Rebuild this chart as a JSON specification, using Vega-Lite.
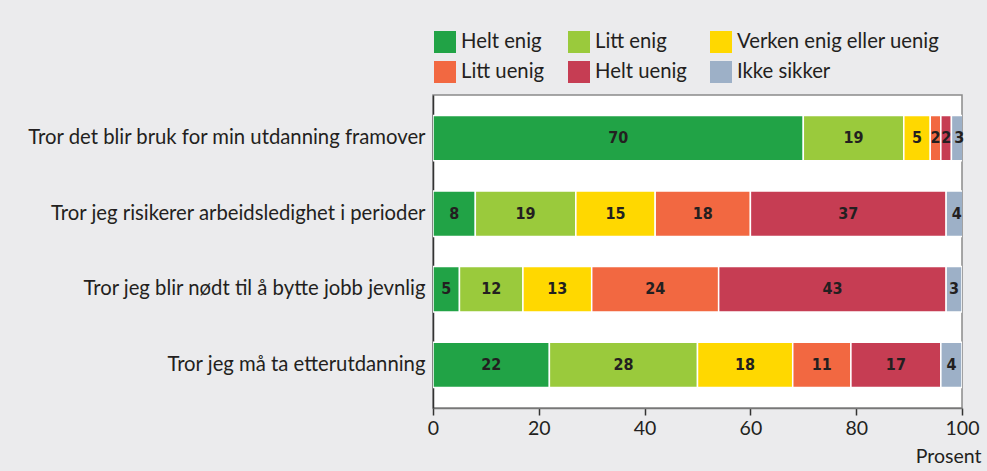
{
  "$schema": "https://vega.github.io/schema/vega-lite/v6.json",
  "width": 529,
  "height": 313,
  "autosize": {"type": "none"},
  "padding": {"left": 433, "top": 95, "right": 25, "bottom": 63},
  "background": "#ebebed",
  "config": {
    "view": {"fill": "white", "stroke": "#8a8a8a", "strokeWidth": 1.5},
    "font": "Lato"
  },
  "data": {
    "values": [
      {"q": "Tror det blir bruk for min utdanning framover", "svar": "Helt enig", "v": 70},
      {"q": "Tror det blir bruk for min utdanning framover", "svar": "Litt enig", "v": 19},
      {"q": "Tror det blir bruk for min utdanning framover", "svar": "Verken enig eller uenig", "v": 5},
      {"q": "Tror det blir bruk for min utdanning framover", "svar": "Litt uenig", "v": 2},
      {"q": "Tror det blir bruk for min utdanning framover", "svar": "Helt uenig", "v": 2},
      {"q": "Tror det blir bruk for min utdanning framover", "svar": "Ikke sikker", "v": 3},
      {"q": "Tror jeg risikerer arbeidsledighet i perioder", "svar": "Helt enig", "v": 8},
      {"q": "Tror jeg risikerer arbeidsledighet i perioder", "svar": "Litt enig", "v": 19},
      {"q": "Tror jeg risikerer arbeidsledighet i perioder", "svar": "Verken enig eller uenig", "v": 15},
      {"q": "Tror jeg risikerer arbeidsledighet i perioder", "svar": "Litt uenig", "v": 18},
      {"q": "Tror jeg risikerer arbeidsledighet i perioder", "svar": "Helt uenig", "v": 37},
      {"q": "Tror jeg risikerer arbeidsledighet i perioder", "svar": "Ikke sikker", "v": 4},
      {"q": "Tror jeg blir nødt til å bytte jobb jevnlig", "svar": "Helt enig", "v": 5},
      {"q": "Tror jeg blir nødt til å bytte jobb jevnlig", "svar": "Litt enig", "v": 12},
      {"q": "Tror jeg blir nødt til å bytte jobb jevnlig", "svar": "Verken enig eller uenig", "v": 13},
      {"q": "Tror jeg blir nødt til å bytte jobb jevnlig", "svar": "Litt uenig", "v": 24},
      {"q": "Tror jeg blir nødt til å bytte jobb jevnlig", "svar": "Helt uenig", "v": 43},
      {"q": "Tror jeg blir nødt til å bytte jobb jevnlig", "svar": "Ikke sikker", "v": 3},
      {"q": "Tror jeg må ta etterutdanning", "svar": "Helt enig", "v": 22},
      {"q": "Tror jeg må ta etterutdanning", "svar": "Litt enig", "v": 28},
      {"q": "Tror jeg må ta etterutdanning", "svar": "Verken enig eller uenig", "v": 18},
      {"q": "Tror jeg må ta etterutdanning", "svar": "Litt uenig", "v": 11},
      {"q": "Tror jeg må ta etterutdanning", "svar": "Helt uenig", "v": 17},
      {"q": "Tror jeg må ta etterutdanning", "svar": "Ikke sikker", "v": 4}
    ]
  },
  "transform": [
    {"calculate": "indexof(['Helt enig','Litt enig','Verken enig eller uenig','Litt uenig','Helt uenig','Ikke sikker'], datum.svar)", "as": "k"},
    {"stack": "v", "groupby": ["q"], "sort": [{"field": "k", "order": "ascending"}], "as": ["x0", "x1"]},
    {"calculate": "(datum.x0 + datum.x1) / 2", "as": "mid"}
  ],
  "encoding": {
    "y": {
      "field": "q",
      "type": "nominal",
      "sort": null,
      "scale": {"paddingInner": 0.4, "paddingOuter": 0.27},
      "axis": {
        "title": null,
        "labelFontSize": 20.3,
        "labelColor": "#231f20",
        "labelPadding": 8,
        "ticks": false,
        "domainColor": "#333333",
        "domainWidth": 1.5,
        "labelLimit": 500
      }
    }
  },
  "layer": [
    {
      "mark": {"type": "bar", "stroke": "white", "strokeWidth": 1.5, "clip": true},
      "encoding": {
        "x": {
          "field": "x0",
          "type": "quantitative",
          "scale": {"domain": [0, 100], "nice": false},
          "axis": {
            "title": "Prosent",
            "titleFontSize": 19.5,
            "titleFontWeight": "normal",
            "titleColor": "#231f20",
            "titleAnchor": "end",
            "titleAlign": "right",
            "titleX": 548,
            "titlePadding": 10,
            "values": [0, 20, 40, 60, 80, 100],
            "labelFontSize": 19.5,
            "labelColor": "#231f20",
            "labelPadding": 4,
            "labelFlush": false,
            "grid": false,
            "tickColor": "#333333",
            "tickSize": 7,
            "tickWidth": 1.5,
            "domainColor": "#777777",
            "domainWidth": 1.5
          }
        },
        "x2": {"field": "x1"},
        "color": {
          "field": "svar",
          "type": "nominal",
          "scale": {
            "domain": ["Helt enig", "Litt enig", "Verken enig eller uenig", "Litt uenig", "Helt uenig", "Ikke sikker"],
            "range": ["#21a346", "#9aca3c", "#ffd800", "#f26841", "#c63d53", "#9db0c7"]
          },
          "legend": {
            "title": null,
            "orient": "none",
            "legendX": 1,
            "legendY": -64,
            "direction": "horizontal",
            "columns": 3,
            "symbolType": "square",
            "symbolSize": 484,
            "symbolStrokeWidth": 0,
            "labelFontSize": 20.3,
            "labelColor": "#231f20",
            "labelOffset": 5,
            "columnPadding": 23,
            "rowPadding": 8,
            "labelLimit": 400
          }
        }
      }
    },
    {
      "mark": {"type": "text", "fontWeight": "bold", "fontSize": 16, "color": "#231f20", "font": "DejaVu Sans Condensed"},
      "encoding": {
        "x": {"field": "mid", "type": "quantitative"},
        "text": {"field": "v", "type": "quantitative"}
      }
    }
  ]
}
